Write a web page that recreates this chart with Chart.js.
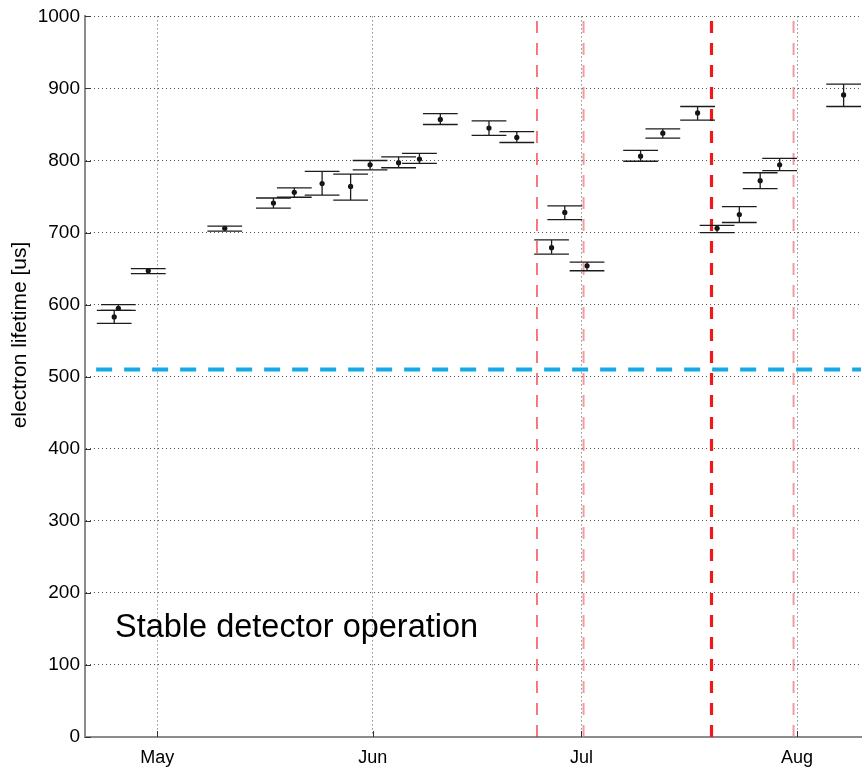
<!DOCTYPE html>
<html>
<head>
<meta charset="utf-8">
<title>electron lifetime</title>
<script src="https://cdn.jsdelivr.net/npm/chart.js@4/dist/chart.umd.min.js"></script>
<style>
    body { margin: 0; background: #fff; }
    #wrapper { width: 868px; height: 772px; }
</style>
</head>
<body>
<div id="wrapper"><canvas id="grafico" width="868" height="772"></canvas></div>
<script>
"use strict";
// days counted from 1 May
const days     = [-6.2, -5.6, -1.3, 9.7, 16.7, 19.7, 23.7, 27.8, 30.6, 34.7, 37.7, 40.7, 47.7, 51.7, 56.7, 58.6, 61.8, 69.5, 72.7, 77.7, 80.5, 83.7, 86.7, 89.5, 98.7];
const lifetime = [583, 595, 647, 706, 741, 756, 768, 764, 794, 797, 802, 857, 845, 832, 679, 728, 654, 806, 838, 866, 706, 725, 772, 794, 891];
const errLow   = [574, 592, 643, 702, 734, 749, 752, 745, 787, 790, 796, 850, 835, 825, 670, 718, 647, 799, 831, 856, 700, 714, 761, 786, 875];
const errHigh  = [592, 600, 650, 709, 748, 762, 785, 781, 800, 805, 810, 865, 855, 840, 690, 737, 659, 814, 844, 875, 710, 736, 783, 803, 906];

const monthDays  = [0, 31, 61, 92];
const monthNames = ["May", "Jun", "Jul", "Aug"];

const redLines    = [54.6, 61.3, 79.7, 91.5];
const stableLevel = 510;

window.onload = function() {
    let _canvas = document.getElementById("grafico");
    const capHalf = 2.5; // half width of the error caps, in days
    const xMin = -10.4, xMax = 101.2;

    let redStyles = [
        { color: "#f2202a", width: 1.2 },
        { color: "rgba(238,120,130,0.75)", width: 2 },
        { color: "#f01818", width: 3.2 },
        { color: "rgba(238,120,130,0.75)", width: 2 }
    ];

    let datasets = [];
    for (let i = 0; i < redLines.length; i++) {
        datasets.push({
            type: "line",
            data: [{ x: redLines[i], y: 0 }, { x: redLines[i], y: 1000 }],
            borderColor: redStyles[i].color,
            borderWidth: redStyles[i].width,
            borderDash: [12, 10],
            pointRadius: 0
        });
    }
    datasets.push({
        type: "line",
        data: [{ x: -8.8, y: stableLevel }, { x: xMax, y: stableLevel }],
        borderColor: "#17a9e5",
        borderWidth: 4,
        borderDash: [16, 12],
        pointRadius: 0
    });
    datasets.push({
        type: "scatter",
        data: days.map((d, i) => ({ x: d, y: lifetime[i] })),
        backgroundColor: "#111",
        borderWidth: 0,
        pointRadius: 2.6
    });

    // vertical whiskers and wide caps
    let errorBars = {
        id: "errorBars",
        afterDatasetsDraw(chart) {
            let ctx = chart.ctx, xs = chart.scales.x, ys = chart.scales.y;
            ctx.save();
            ctx.strokeStyle = "#1c1c1c";
            ctx.lineWidth = 1.3;
            for (let i = 0; i < days.length; i++) {
                let x = xs.getPixelForValue(days[i]);
                let xa = xs.getPixelForValue(days[i] - capHalf);
                let xb = xs.getPixelForValue(days[i] + capHalf);
                let yl = ys.getPixelForValue(errLow[i]);
                let yh = ys.getPixelForValue(errHigh[i]);
                ctx.beginPath();
                ctx.moveTo(x, yl); ctx.lineTo(x, yh);
                ctx.moveTo(xa, yl); ctx.lineTo(xb, yl);
                ctx.moveTo(xa, yh); ctx.lineTo(xb, yh);
                ctx.stroke();
            }
            ctx.restore();
        }
    };

    // inward tick marks, y title and the note
    let extras = {
        id: "extras",
        afterDraw(chart) {
            let ctx = chart.ctx, xs = chart.scales.x, ys = chart.scales.y;
            let area = chart.chartArea;
            ctx.save();
            ctx.strokeStyle = "#333";
            ctx.lineWidth = 1;
            ctx.beginPath();
            for (const t of ys.ticks) {
                let y = Math.round(ys.getPixelForValue(t.value)) + 0.5;
                ctx.moveTo(area.left, y); ctx.lineTo(area.left + 6, y);
            }
            for (const t of xs.ticks) {
                let x = Math.round(xs.getPixelForValue(t.value)) + 0.5;
                ctx.moveTo(x, area.bottom); ctx.lineTo(x, area.bottom - 6);
            }
            ctx.stroke();

            ctx.fillStyle = "#000";
            ctx.font = "21px 'Liberation Sans', Arial, sans-serif";
            ctx.textAlign = "center";
            ctx.textBaseline = "middle";
            ctx.translate(20, 335);
            ctx.rotate(-Math.PI / 2);
            ctx.fillText("electron lifetime [us]", 0, 0);
            ctx.restore();

            ctx.save();
            ctx.fillStyle = "#000";
            ctx.font = "32.5px 'Liberation Sans', Arial, sans-serif";
            ctx.textAlign = "left";
            ctx.textBaseline = "alphabetic";
            ctx.fillText("Stable detector operation", 115, 637);
            ctx.restore();
        }
    };

    new Chart(_canvas, {
        data: { datasets: datasets },
        options: {
            responsive: false,
            animation: false,
            events: [],
            layout: { padding: { top: 16, right: 7, left: 0, bottom: 0 } },
            plugins: { legend: { display: false }, tooltip: { enabled: false } },
            scales: {
                x: {
                    type: "linear",
                    min: xMin,
                    max: xMax,
                    afterBuildTicks: function(scale) {
                        scale.ticks = monthDays.map(v => ({ value: v }));
                    },
                    afterFit: function(scale) { scale.height = 35; },
                    ticks: {
                        padding: 10,
                        color: "#000",
                        font: { family: "'Liberation Sans', Arial, sans-serif", size: 18 },
                        callback: function(v) {
                            let k = monthDays.indexOf(v);
                            return k >= 0 ? monthNames[k] : "";
                        }
                    },
                    grid: { color: "#555", lineWidth: 1, drawTicks: false },
                    border: { display: true, color: "#8c8c8c", width: 2, dash: [1, 3] }
                },
                y: {
                    min: 0,
                    max: 1000,
                    afterFit: function(scale) { scale.width = 85; },
                    ticks: {
                        stepSize: 100,
                        padding: 5,
                        color: "#000",
                        font: { family: "'Liberation Sans', Arial, sans-serif", size: 19 },
                        callback: function(v) { return String(v); }
                    },
                    grid: { color: "#555", lineWidth: 1, drawTicks: false },
                    border: { display: true, color: "#8c8c8c", width: 2, dash: [1, 3] }
                }
            }
        },
        plugins: [errorBars, extras]
    });
};
</script>
</body>
</html>
